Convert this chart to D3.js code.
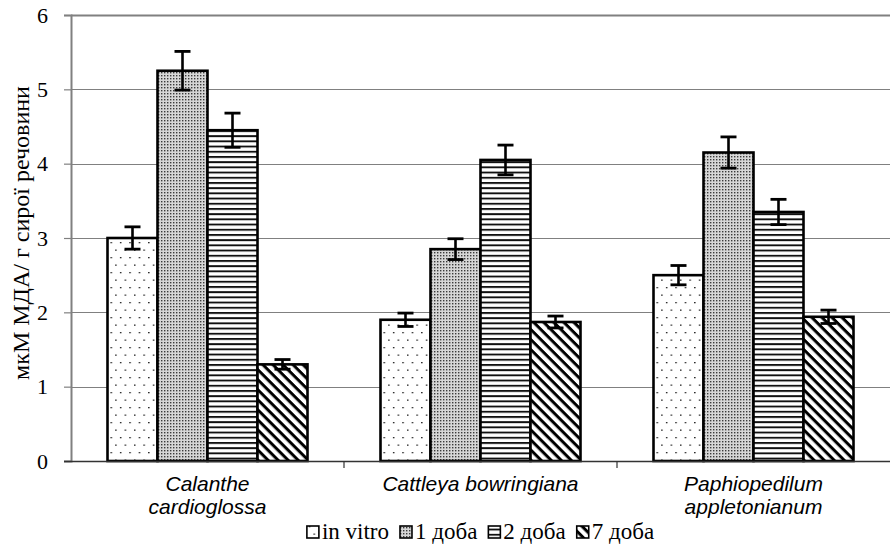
<!DOCTYPE html>
<html>
<head>
<meta charset="utf-8">
<script src="https://cdn.jsdelivr.net/npm/d3@7"></script>
<style>
  html, body { margin: 0; padding: 0; background: #fff; }
  svg { display: block; }
</style>
</head>
<body>
<svg id="chart" width="890" height="546"></svg>
<script>
// Species (two-line labels) and sampling periods
const categories = ["Calanthe cardioglossa", "Cattleya bowringiana", "Paphiopedilum appletonianum"];
const categoryLines = [["Calanthe", "cardioglossa"], ["Cattleya bowringiana"], ["Paphiopedilum", "appletonianum"]];
const seriesNames = ["in vitro", "1 доба", "2 доба", "7 доба"];

// MDA content, one array per series (values in category order)
const inVitro = [3.00, 1.90, 2.50];
const day1    = [5.25, 2.85, 4.15];
const day2    = [4.45, 4.05, 3.35];
const day7    = [1.30, 1.87, 1.94];

// Error bar half-widths
const inVitroErr = [0.15, 0.09, 0.13];
const day1Err    = [0.26, 0.14, 0.21];
const day2Err    = [0.23, 0.20, 0.17];
const day7Err    = [0.065, 0.08, 0.09];

const yTicks = [0, 1, 2, 3, 4, 5, 6];
const yTitle = "мкМ МДА/ г сирої речовини";

const seriesValues = [inVitro, day1, day2, day7];
const seriesErrs = [inVitroErr, day1Err, day2Err, day7Err];
const patternIds = ["pat-dots", "pat-fine", "pat-hlines", "pat-diag"];

const rows = [];
categories.forEach((c, ci) => {
  seriesNames.forEach((s, si) => {
    rows.push({ cat: c, series: s, si, value: seriesValues[si][ci], err: seriesErrs[si][ci] });
  });
});

const svg = d3.select("#chart");
const plot = { left: 71, right: 890, top: 15, bottom: 461 };
const serif = "'Liberation Serif', 'Times New Roman', serif";

const x0 = d3.scaleBand().domain(categories).range([plot.left, plot.right]).padding(0);
const x1 = d3.scaleBand().domain(seriesNames).range([0, x0.bandwidth()]).paddingInner(0).paddingOuter(0.73);
const y = d3.scaleLinear().domain([0, 6]).range([plot.bottom, plot.top]);

// Fill patterns
const defs = svg.append("defs");

const pDots = defs.append("pattern").attr("id", "pat-dots")
  .attr("patternUnits", "userSpaceOnUse").attr("width", 9.4).attr("height", 15);
pDots.append("rect").attr("width", 9.4).attr("height", 15).attr("fill", "#fff");
pDots.append("rect").attr("x", 2).attr("y", 2).attr("width", 1.3).attr("height", 1.3).attr("fill", "#000");
pDots.append("rect").attr("x", 6.7).attr("y", 9.5).attr("width", 1.3).attr("height", 1.3).attr("fill", "#000");

const pFine = defs.append("pattern").attr("id", "pat-fine")
  .attr("patternUnits", "userSpaceOnUse").attr("width", 3).attr("height", 3);
pFine.append("rect").attr("width", 3).attr("height", 3).attr("fill", "#d6d6d6");
pFine.append("rect").attr("x", 0).attr("y", 0).attr("width", 1.4).attr("height", 1.4).attr("fill", "#3a3a3a");

const pH = defs.append("pattern").attr("id", "pat-hlines")
  .attr("patternUnits", "userSpaceOnUse").attr("width", 10).attr("height", 5.2);
pH.append("rect").attr("width", 10).attr("height", 5.2).attr("fill", "#fff");
pH.append("rect").attr("x", 0).attr("y", 0).attr("width", 10).attr("height", 1.9).attr("fill", "#111");

const pD = defs.append("pattern").attr("id", "pat-diag")
  .attr("patternUnits", "userSpaceOnUse").attr("width", 10).attr("height", 7.1)
  .attr("patternTransform", "rotate(45)");
pD.append("rect").attr("width", 10).attr("height", 7.1).attr("fill", "#fff");
pD.append("rect").attr("x", 0).attr("y", 0).attr("width", 10).attr("height", 3).attr("fill", "#000");

// Gridlines
svg.append("g").selectAll("line").data(yTicks.filter(d => d > 0)).join("line")
  .attr("x1", plot.left).attr("x2", plot.right)
  .attr("y1", d => Math.round(y(d)) + 0.5).attr("y2", d => Math.round(y(d)) + 0.5)
  .attr("stroke", "#808080").attr("stroke-width", d => d === 6 ? 2 : 1.2);

// Y axis
const yAxis = d3.axisLeft(y).tickValues(yTicks).tickSize(7).tickFormat(d3.format("d")).tickPadding(16);
const gy = svg.append("g").attr("transform", `translate(${plot.left},0)`).call(yAxis);
gy.select(".domain").attr("stroke", "#808080").attr("stroke-width", 2);
gy.selectAll(".tick line").attr("stroke", "#808080").attr("stroke-width", 1.2);
gy.selectAll(".tick text")
  .attr("font-family", serif)
  .attr("font-size", 22).attr("fill", "#000");

// Bars
const groups = svg.append("g").selectAll("g").data(categories).join("g")
  .attr("transform", d => `translate(${x0(d)},0)`);

groups.selectAll("rect").data(c => rows.filter(r => r.cat === c)).join("rect")
  .attr("x", d => x1(d.series))
  .attr("y", d => y(d.value))
  .attr("width", x1.bandwidth())
  .attr("height", d => y(0) - y(d.value))
  .attr("fill", d => `url(#${patternIds[d.si]})`)
  .attr("stroke", "#000").attr("stroke-width", 2.6);

// Error bars
const eb = groups.selectAll("g.err").data(c => rows.filter(r => r.cat === c)).join("g").attr("class", "err");
eb.append("line")
  .attr("x1", d => x1(d.series) + x1.bandwidth() / 2).attr("x2", d => x1(d.series) + x1.bandwidth() / 2)
  .attr("y1", d => y(d.value + d.err)).attr("y2", d => y(d.value - d.err))
  .attr("stroke", "#000").attr("stroke-width", 2.6);
[1, -1].forEach(sign => {
  eb.append("line")
    .attr("x1", d => x1(d.series) + x1.bandwidth() / 2 - 8).attr("x2", d => x1(d.series) + x1.bandwidth() / 2 + 8)
    .attr("y1", d => y(d.value + sign * d.err)).attr("y2", d => y(d.value + sign * d.err))
    .attr("stroke", "#000").attr("stroke-width", 2.8);
});

// X axis
const xAxisLine = svg.append("g");
xAxisLine.append("line")
  .attr("x1", plot.left - 7).attr("x2", plot.right)
  .attr("y1", plot.bottom + 0.5).attr("y2", plot.bottom + 0.5)
  .attr("stroke", "#333").attr("stroke-width", 1.6);
xAxisLine.selectAll("line.tk").data(categories.slice(1)).join("line").attr("class", "tk")
  .attr("x1", d => x0(d)).attr("x2", d => x0(d))
  .attr("y1", plot.bottom).attr("y2", plot.bottom + 7)
  .attr("stroke", "#333").attr("stroke-width", 1.2);

// Category labels
const catLabels = svg.append("g").selectAll("text").data(categories).join("text")
  .attr("x", d => x0(d) + x0.bandwidth() / 2)
  .attr("y", 491)
  .attr("text-anchor", "middle")
  .attr("font-family", "'Liberation Sans', Arial, sans-serif")
  .attr("font-style", "italic")
  .attr("font-size", 21)
  .attr("fill", "#000");
catLabels.each(function(d, i) {
  d3.select(this).selectAll("tspan").data(categoryLines[i]).join("tspan")
    .attr("x", x0(d) + x0.bandwidth() / 2)
    .attr("dy", (t, j) => j === 0 ? 0 : 23)
    .text(t => t);
});

// Y axis title
svg.append("text")
  .attr("transform", `translate(29,233) rotate(-90)`)
  .attr("text-anchor", "middle")
  .attr("font-family", serif)
  .attr("font-size", 24)
  .attr("fill", "#000")
  .text(yTitle);

// Legend
const legend = svg.append("g");
let lx = 0;
const items = [];
seriesNames.forEach((s, i) => {
  const g = legend.append("g");
  g.append("rect").attr("x", 0).attr("y", -13).attr("width", 12).attr("height", 12)
    .attr("fill", `url(#${patternIds[i]})`).attr("stroke", "#000").attr("stroke-width", 1.6);
  const t = g.append("text").attr("x", 15).attr("y", 0)
    .attr("font-family", serif).attr("font-size", 23).attr("fill", "#000").text(s);
  items.push({ g, w: 15 + t.node().getComputedTextLength() });
});
items.forEach(it => {
  it.g.attr("transform", `translate(${lx},0)`);
  lx += it.w + 11;
});
const legendWidth = lx - 11;
legend.attr("transform", `translate(${(plot.left + plot.right) / 2 - legendWidth / 2},539)`);
</script>
</body>
</html>
